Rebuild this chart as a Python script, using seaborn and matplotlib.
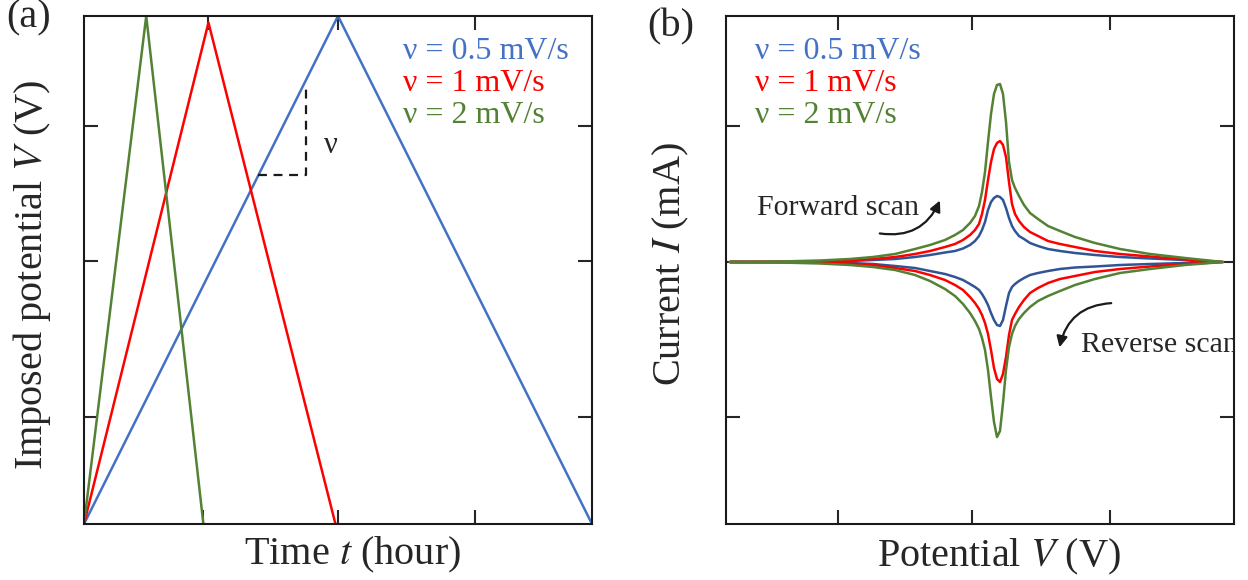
import numpy as np
import pandas as pd
import matplotlib
matplotlib.use('Agg')
import matplotlib.pyplot as plt
import seaborn as sns

# panel (a): triangular potential sweeps (time in hours, potential normalised)
rates = ['0.5', '1', '2']
sweep_peak_t = [2.0, 0.98, 0.49]
sweep_end_t = [4.0, 1.98, 0.94]
sweep_peak_v = [1.0, 0.987, 1.0]

# panel (b): CV curves (potential, current in arb. units)
pot = [0.04, 0.54, 0.94, 1.24, 1.47, 1.69, 1.89, 2.04, 2.19, 2.29, 2.37, 2.44,
       2.49, 2.53, 2.56, 2.59, 2.62, 2.65, 2.68, 2.71, 2.74, 2.77, 2.80, 2.83,
       2.86, 2.89, 2.93, 2.98, 3.04, 3.12, 3.22, 3.34, 3.49, 3.69, 3.94, 4.24,
       4.59, 4.97]
# forward scan (upper branch, left to right)
fwd_05 = [0, 0, 0.003, 0.01, 0.02, 0.03, 0.05, 0.07, 0.095, 0.11, 0.135, 0.17,
          0.21, 0.26, 0.32, 0.40, 0.52, 0.60, 0.64, 0.66, 0.65, 0.62, 0.54, 0.44,
          0.36, 0.31, 0.26, 0.23, 0.19, 0.16, 0.13, 0.11, 0.09, 0.07, 0.05, 0.035,
          0.02, 0]
fwd_1 = [0, 0, 0.005, 0.015, 0.03, 0.05, 0.08, 0.11, 0.15, 0.18, 0.22, 0.27,
         0.32, 0.38, 0.48, 0.62, 0.82, 1.00, 1.13, 1.19, 1.21, 1.17, 1.05, 0.80,
         0.58, 0.48, 0.41, 0.35, 0.30, 0.26, 0.21, 0.18, 0.15, 0.11, 0.08, 0.055,
         0.025, 0]
fwd_2 = [0, 0.005, 0.015, 0.03, 0.05, 0.08, 0.13, 0.17, 0.22, 0.27, 0.32, 0.39,
         0.46, 0.56, 0.70, 0.90, 1.20, 1.48, 1.68, 1.77, 1.78, 1.68, 1.40, 1.00,
         0.82, 0.74, 0.66, 0.57, 0.49, 0.43, 0.36, 0.31, 0.25, 0.19, 0.13, 0.08,
         0.04, 0]
# reverse scan (lower branch, same potentials, drawn right to left)
rev_05 = [0, 0, -0.003, -0.01, -0.02, -0.04, -0.06, -0.09, -0.12, -0.15, -0.18, -0.22,
          -0.25, -0.28, -0.32, -0.37, -0.43, -0.51, -0.58, -0.63, -0.64, -0.58, -0.44, -0.31,
          -0.25, -0.22, -0.19, -0.16, -0.13, -0.11, -0.09, -0.07, -0.055, -0.045, -0.03, -0.02,
          -0.01, 0]
rev_1 = [0, 0, -0.005, -0.015, -0.03, -0.06, -0.09, -0.13, -0.18, -0.23, -0.28, -0.35,
         -0.41, -0.47, -0.53, -0.61, -0.72, -0.88, -1.06, -1.17, -1.20, -1.12, -0.95, -0.73,
         -0.58, -0.52, -0.45, -0.38, -0.31, -0.26, -0.21, -0.17, -0.14, -0.10, -0.07, -0.045,
         -0.02, 0]
rev_2 = [0, -0.005, -0.015, -0.03, -0.05, -0.08, -0.13, -0.19, -0.27, -0.34, -0.42, -0.51,
         -0.59, -0.67, -0.76, -0.88, -1.08, -1.35, -1.60, -1.75, -1.69, -1.41, -1.08, -0.85,
         -0.72, -0.64, -0.57, -0.51, -0.45, -0.39, -0.34, -0.29, -0.23, -0.17, -0.11, -0.07,
         -0.03, 0]

col_a = {'0.5': '#4472C4', '1': '#FF0000', '2': '#548235'}
col_b = {'0.5': '#2F5597', '1': '#FF0000', '2': '#548235'}

sns.set_theme(style='white')
plt.rcParams['font.family'] = ['Liberation Serif', 'DejaVu Serif']
plt.rcParams['mathtext.fontset'] = 'stix'

fig = plt.figure(figsize=(12.48, 5.8), dpi=100)
ax_a = fig.add_axes([84/1248, 56/580, 508/1248, 508/580])
ax_b = fig.add_axes([726/1248, 56/580, 508/1248, 508/580])

tick_kw = dict(direction='in', length=10, width=1.5, labelbottom=False,
               labelleft=False, left=True, bottom=True, right=True)

# --- (a) ---
rows = []
for r, tp, te, vp in zip(rates, sweep_peak_t, sweep_end_t, sweep_peak_v):
    for i, (t, v) in enumerate([(0, 0), (tp, vp), (te, 0)]):
        rows.append(dict(rate=r, t=t, v=v, i=i))
df_a = pd.DataFrame(rows)
sns.lineplot(data=df_a, x='t', y='v', hue='rate', palette=col_a, sort=False,
             estimator=None, units='rate', lw=1.8, legend=False, ax=ax_a)
ax_a.set_xlim(0, 4)
ax_a.set_ylim(0, 1)
ax_a.set_xticks([0.937, 2.0, 3.08])
ax_a.set_yticks([0.211, 0.518, 0.783])
ax_a.tick_params(**tick_kw)
sec = ax_a.secondary_xaxis('top')
sec.set_xticks([0.976, 2.0, 3.08])
sec.tick_params(direction='in', length=10, width=1.5, labeltop=False, top=True)

# slope marker on the 0.5 mV/s ramp
ax_a.plot([1.374, 1.748, 1.748], [0.687, 0.687, 0.864], 'k--', lw=1.6, dashes=(4, 3))
ax_a.text(1.94, 0.745, 'ν', fontsize=22, ha='center', va='center')

ax_a.set_xlabel('Time $t$ (hour)', fontsize=29)
ax_a.set_ylabel('Imposed potential $V$ (V)', fontsize=29)
ax_a.xaxis.set_label_coords(0.528, -0.022)
ax_a.yaxis.set_label_coords(-0.061, 0.49)

# --- (b) ---
rows = []
for r, fw, rv in zip(rates, [fwd_05, fwd_1, fwd_2], [rev_05, rev_1, rev_2]):
    xs = pot + pot[::-1]
    ys = fw + rv[::-1]
    for i, (x, y) in enumerate(zip(xs, ys)):
        rows.append(dict(rate=r, V=x, I=y, i=i))
df_b = pd.DataFrame(rows)
sns.lineplot(data=df_b, x='V', y='I', hue='rate', palette=col_b, sort=False,
             estimator=None, units='rate', lw=1.8, legend=False, ax=ax_b)
for ln in ax_b.lines:
    ln.set_solid_joinstyle('round')
ax_b.set_xlim(0, 5.08)
ax_b.set_ylim(-2.62, 2.46)
ax_b.set_xticks([1.12, 2.46, 3.84])
ax_b.set_yticks([-1.55, 0, 1.36])
ax_b.tick_params(top=True, **tick_kw)
ax_b.set_xlabel('Potential $V$ (V)', fontsize=29)
ax_b.set_ylabel('Current $I$ (mA)', fontsize=29)
ax_b.xaxis.set_label_coords(0.537, -0.025)
ax_b.yaxis.set_label_coords(-0.069, 0.512)

ax_b.annotate('', xy=(2.15, 0.64), xytext=(1.51, 0.29),
              arrowprops=dict(arrowstyle='-|>', connectionstyle='arc3,rad=0.4',
                              color='k', lw=1.6, mutation_scale=16))
ax_b.text(0.31, 0.47, 'Forward scan', fontsize=21.5, va='baseline')
ax_b.annotate('', xy=(3.33, -0.88), xytext=(3.88, -0.41),
              arrowprops=dict(arrowstyle='-|>', connectionstyle='arc3,rad=0.4',
                              color='k', lw=1.6, mutation_scale=16))
ax_b.text(3.55, -0.90, 'Reverse scan', fontsize=21.5, va='baseline', clip_on=True)

# rate labels
for ax, x0 in [(ax_a, 0.628), (ax_b, 0.057)]:
    for k, r in enumerate(rates):
        ax.text(x0, 0.915 - 0.063 * k, 'ν = %s mV/s' % r, color=col_a[r],
                fontsize=23, transform=ax.transAxes, va='baseline')

for ax in (ax_a, ax_b):
    for s in ax.spines.values():
        s.set_color('k')
        s.set_linewidth(1.5)

fig.text(29/1248, 1 - 18/580, '(a)', fontsize=29, ha='center', va='center')
fig.text(671/1248, 1 - 27/580, '(b)', fontsize=29, ha='center', va='center')

fig.savefig('out.png', dpi=100)
